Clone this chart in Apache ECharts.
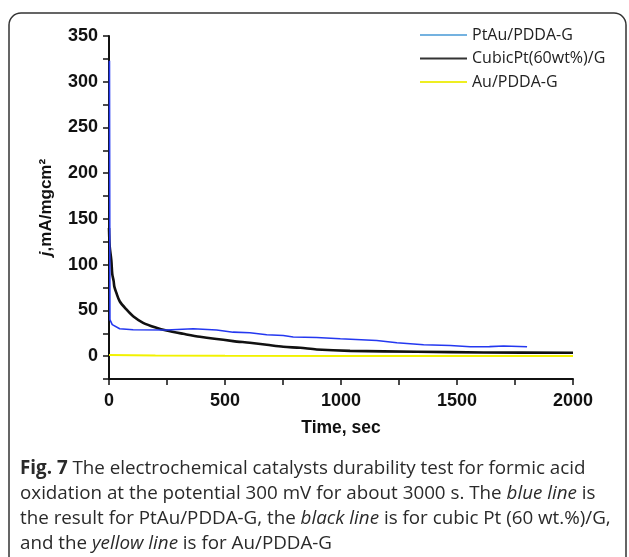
<!DOCTYPE html>
<html>
<head>
<meta charset="utf-8">
<script src="https://cdn.jsdelivr.net/npm/echarts@6/dist/echarts.min.js"></script>
<style>
  html, body { margin: 0; padding: 0; background: #fff; }
  #chart { width: 629px; height: 557px; }
</style>
</head>
<body>
<div id="chart"></div>
<script>
// values (time in sec, j in mA/mgcm2)
const ptauTime = [2, 4, 14, 46, 104, 248, 363, 464, 535, 607, 680, 751, 794, 895, 997, 1154, 1241, 1356, 1471, 1557, 1640, 1701, 1802]
const ptauJ = [323, 40, 34.5, 30, 28.8, 28.5, 30, 28.5, 26.2, 25.5, 23.3, 22.5, 21, 20.4, 19, 17.1, 14.6, 12.4, 11.7, 10.2, 10.4, 11, 10.2]

const cubicTime = [0, 3, 10, 14, 20, 23, 32, 46, 75, 104, 147, 204, 248, 320, 392, 535, 607, 680, 751, 824, 895, 1039, 1327, 1615, 2000]
const cubicJ = [140, 120, 105, 90, 82, 76, 69, 60, 51, 43.6, 36.4, 31, 28, 24.4, 21.1, 16.4, 14.6, 12.4, 10.2, 9.1, 7.3, 5.8, 4.8, 4, 3.7]

const auTime = [0, 200, 500, 1000, 2000]
const auJ = [1.2, 0.6, 0.3, 0.2, 0.2]

const seriesNames = ['PtAu/PDDA-G', 'CubicPt(60wt%)/G', 'Au/PDDA-G']
const lineColors = ['#2438f0', '#111111', '#f2f200']
const legendColors = ['#74b2e0', '#333333', '#eeee22']

const xTicks = [0, 500, 1000, 1500, 2000]
const yTicks = [0, 50, 100, 150, 200, 250, 300, 350]

function pairs(xs, ys) {
  return xs.map((x, i) => [x, ys[i]])
}

const chart = echarts.init(document.getElementById('chart'))
const axisFont = 'Liberation Sans, Arial, sans-serif'
const capFont = '"Open Sans", "Noto Sans", sans-serif'

chart.setOption({
  animation: false,
  grid: { left: 109, right: 56, top: 36, bottom: 178 },
  legend: {
    orient: 'vertical',
    left: 420,
    top: 27,
    padding: 0,
    icon: 'rect',
    itemWidth: 47,
    itemHeight: 2,
    itemGap: 7.5,
    textStyle: { fontSize: 16, color: '#222', fontFamily: capFont },
    data: seriesNames.map((n, i) => ({ name: n, itemStyle: { color: legendColors[i] } }))
  },
  xAxis: {
    type: 'value',
    min: 0,
    max: 2000,
    interval: 250,
    name: 'Time, sec',
    nameLocation: 'middle',
    nameGap: 40,
    nameTextStyle: { fontSize: 17.5, fontWeight: 'bold', color: '#111', fontFamily: axisFont },
    splitLine: { show: false },
    axisLine: { onZero: false, lineStyle: { color: '#111', width: 2 } },
    axisTick: { length: 6, lineStyle: { color: '#111', width: 1.5 } },
    axisLabel: {
      margin: 13,
      fontSize: 18,
      fontWeight: 'bold',
      color: '#111',
      fontFamily: axisFont,
      formatter: v => (xTicks.includes(v) ? String(v) : '')
    }
  },
  yAxis: {
    type: 'value',
    min: -25,
    max: 350,
    interval: 25,
    name: '{i|j},mA/mgcm²',
    nameLocation: 'middle',
    nameGap: 54,
    nameTextStyle: {
      fontSize: 17, fontWeight: 'bold', color: '#111', fontFamily: axisFont,
      rich: { i: { fontSize: 17, fontWeight: 'bold', fontStyle: 'italic', color: '#111', fontFamily: axisFont } }
    },
    splitLine: { show: false },
    axisLine: { show: true, lineStyle: { color: '#111', width: 2 } },
    axisTick: { length: 6, lineStyle: { color: '#111', width: 1.5 } },
    axisLabel: {
      margin: 11,
      fontSize: 18,
      fontWeight: 'bold',
      color: '#111',
      fontFamily: axisFont,
      formatter: v => (yTicks.includes(v) ? String(v) : '')
    }
  },
  series: [
    {
      name: seriesNames[0], type: 'line', data: pairs(ptauTime, ptauJ),
      showSymbol: false, z: 3,
      lineStyle: { color: lineColors[0], width: 1.6 }, itemStyle: { color: lineColors[0] }
    },
    {
      name: seriesNames[1], type: 'line', data: pairs(cubicTime, cubicJ),
      showSymbol: false, smooth: 0.3, z: 2,
      lineStyle: { color: lineColors[1], width: 2.6 }, itemStyle: { color: lineColors[1] }
    },
    {
      name: seriesNames[2], type: 'line', data: pairs(auTime, auJ),
      showSymbol: false, z: 1,
      lineStyle: { color: lineColors[2], width: 2 }, itemStyle: { color: lineColors[2] }
    }
  ],
  graphic: [
    {
      type: 'rect',
      shape: { x: 9, y: 13, width: 617, height: 620, r: 12 },
      style: { fill: 'none', stroke: '#333', lineWidth: 1.5 },
      silent: true
    },
    {
      type: 'text',
      left: 20,
      top: 456,
      style: {
        text: '{b|Fig. 7} The electrochemical catalysts durability test for formic acid\n' +
          'oxidation at the potential 300 mV for about 3000 s. The {i|blue line} is\n' +
          'the result for PtAu/PDDA-G, the {i|black line} is for cubic Pt (60 wt.%)/G,\n' +
          'and the {i|yellow line} is for Au/PDDA-G',
        fill: '#2a2a2a',
        fontSize: 18.8,
        fontFamily: capFont,
        lineHeight: 25,
        rich: {
          b: { fontSize: 18.8, fontWeight: 'bold', fontFamily: capFont, fill: '#2a2a2a', lineHeight: 25 },
          i: { fontSize: 18.8, fontStyle: 'italic', fontFamily: capFont, fill: '#2a2a2a', lineHeight: 25 }
        }
      }
    }
  ]
})
</script>
</body>
</html>
